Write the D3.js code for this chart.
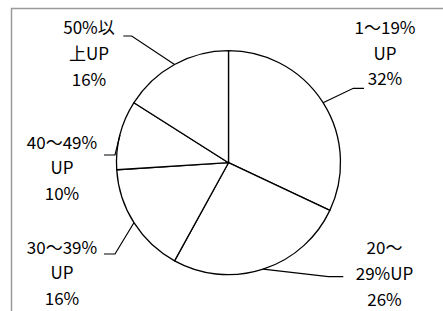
<!DOCTYPE html>
<html>
<head>
	<meta charset="UTF-8" />
	<title>pie</title>
	<script src="https://d3js.org/d3.v7.min.js"></script>
	<style type="text/css">
		body{margin:0; background:#fff;}
		text{font-family:"Noto Sans CJK JP", sans-serif; font-size:17px; fill:#000;}
	</style>
</head>
<body>
	<svg id="chart"></svg>

	<script type="text/javascript">
	// data
	var categories = ["1～19%UP", "20～29%UP", "30～39%UP", "40～49%UP", "50%以上UP"]
	var values = [32, 26, 16, 10, 16]
	var labelLines = [
		["1～19%", "UP", "32%"],
		["20～", "29%UP", "26%"],
		["30～39%", "UP", "16%"],
		["40～49%", "UP", "10%"],
		["50%以", "上UP", "16%"]
	]

	// manual label layout (x, first line y, elbow of leader, end of leader)
	var labelPos = [
		{x: 385, y: 26.3, ex: 353.3, ey: 88.3, lx: 364},
		{x: 384.5, y: 246.7, ex: 328.3, ey: 276.7, lx: 343.3},
		{x: 62, y: 246, ex: 115, ey: 254, lx: 104},
		{x: 62, y: 141, ex: 115, ey: 155, lx: 104},
		{x: 89, y: 26.7, ex: 131.7, ey: 36, lx: 123.3}
	]

	var w = 443
	var h = 311
	var cx = 228.5, cy = 162.7, r = 112
	var lineH = 25.8

	var svg = d3.select("#chart")
				.attr("width", w)
				.attr("height", h)

	// chart area border
	svg.append("rect")
		.attr("x", 11.5).attr("y", 8.5)
		.attr("width", w + 10).attr("height", h + 10)
		.attr("fill", "none")
		.attr("stroke", "#9a9a9a")
		.attr("stroke-width", 1.5)

	var data = categories.map((c, i) => ({name: c, value: values[i], lines: labelLines[i], pos: labelPos[i]}))

	var pie = d3.pie().sort(null).value(d => d.value)
	var arc = d3.arc().innerRadius(0).outerRadius(r)

	var g = svg.append("g").attr("transform", "translate(" + cx + "," + cy + ")")
	var arcs = pie(data)

	g.selectAll("path")
		.data(arcs)
		.enter()
		.append("path")
		.attr("d", arc)
		.attr("fill", "#fff")
		.attr("stroke", "#000")
		.attr("stroke-width", 1.3)
		.attr("stroke-linejoin", "round")

	// leader lines
	svg.selectAll(".leader")
		.data(arcs)
		.enter()
		.append("polyline")
		.attr("class", "leader")
		.attr("fill", "none")
		.attr("stroke", "#000")
		.attr("stroke-width", 1.2)
		.attr("points", d => {
			var a = (d.startAngle + d.endAngle) / 2
			var sx = cx + r * Math.sin(a), sy = cy - r * Math.cos(a)
			var p = d.data.pos
			return [[sx, sy], [p.ex, p.ey], [p.lx, p.ey]].map(q => q.join(",")).join(" ")
		})

	// labels
	var labels = svg.selectAll(".lab")
		.data(data)
		.enter()
		.append("text")
		.attr("class", "lab")
		.attr("text-anchor", "middle")

	labels.selectAll("tspan")
		.data(d => d.lines.map((t, i) => ({t: t, i: i, p: d.pos})))
		.enter()
		.append("tspan")
		.attr("x", d => d.p.x)
		.attr("y", d => d.p.y + d.i * lineH)
		.attr("dominant-baseline", "central")
		.text(d => d.t)
	</script>
</body>
</html>
